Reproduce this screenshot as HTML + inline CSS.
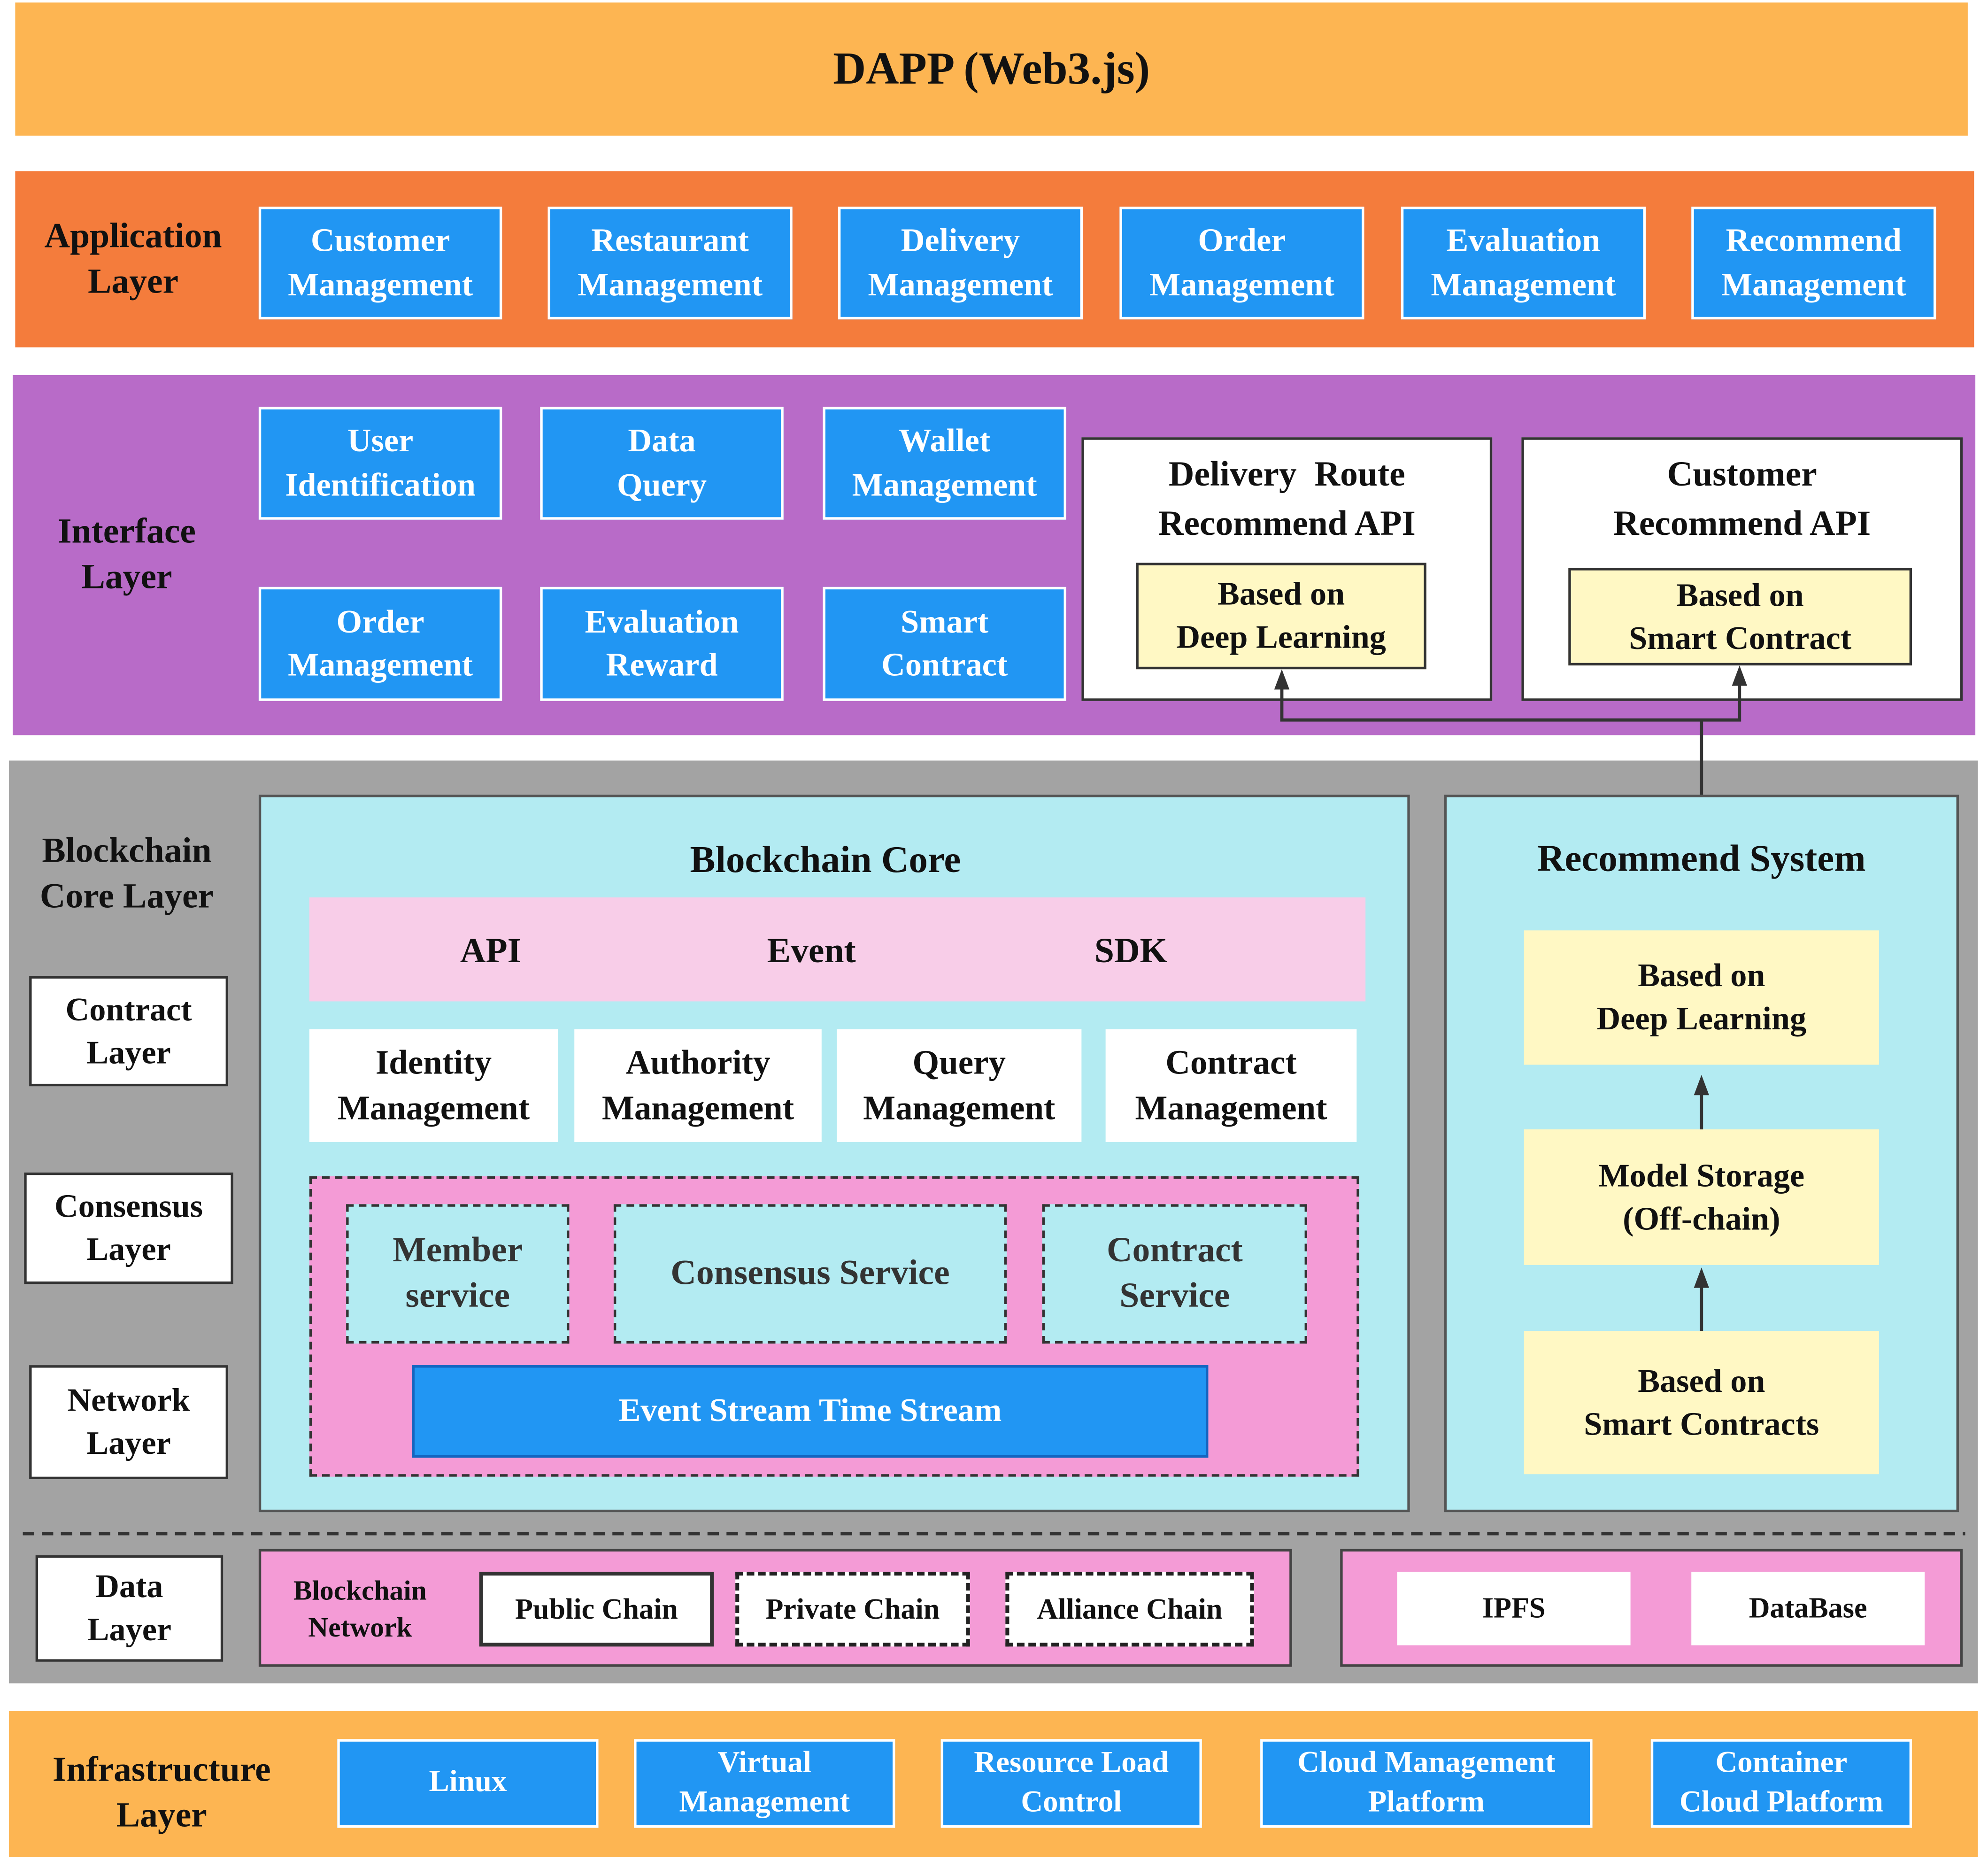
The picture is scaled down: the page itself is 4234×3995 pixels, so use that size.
<!DOCTYPE html>
<html><head><meta charset="utf-8"><style>
*{margin:0;padding:0;box-sizing:border-box}
html,body{width:4234px;height:3995px;overflow:hidden;background:#fff}
#w{position:absolute;left:0;top:0;width:1568px;height:1480px;transform:scale(2.7003,2.6993);transform-origin:0 0;font-family:"Liberation Serif",serif;font-weight:bold}
.a{position:absolute;display:flex;align-items:center;justify-content:center;text-align:center;line-height:1.3}
.b{background:#2196F3;color:#fff;border:2px solid #fff;font-size:26px;line-height:1.32}
.w{background:#fff;color:#111;border:2px solid #333;font-size:26px}
.y{background:#FFF8C4;color:#111;font-size:26px}
.l{color:#111;font-size:28px}
.d{border:2px dashed #333}
</style></head><body><div id="w">
<div class="a" style="left:12px;top:2px;width:1540px;height:105px;background:#FDB552;font-size:36px;color:#111">DAPP (Web3.js)</div>

<div class="a" style="left:12px;top:135px;width:1545px;height:139px;background:#F47C3C"></div>
<div class="a l" style="left:20px;top:165px;width:170px;height:80px">Application<br>Layer</div>
<div class="a b" style="left:204px;top:163px;width:192px;height:89px">Customer<br>Management</div>
<div class="a b" style="left:432px;top:163px;width:193px;height:89px">Restaurant<br>Management</div>
<div class="a b" style="left:661px;top:163px;width:193px;height:89px">Delivery<br>Management</div>
<div class="a b" style="left:883px;top:163px;width:193px;height:89px">Order<br>Management</div>
<div class="a b" style="left:1105px;top:163px;width:193px;height:89px">Evaluation<br>Management</div>
<div class="a b" style="left:1334px;top:163px;width:193px;height:89px">Recommend<br>Management</div>

<div class="a" style="left:10px;top:296px;width:1548px;height:284px;background:#B86BC8"></div>
<div class="a l" style="left:20px;top:398px;width:160px;height:80px">Interface<br>Layer</div>
<div class="a b" style="left:204px;top:321px;width:192px;height:89px">User<br>Identification</div>
<div class="a b" style="left:426px;top:321px;width:192px;height:89px">Data<br>Query</div>
<div class="a b" style="left:649px;top:321px;width:192px;height:89px">Wallet<br>Management</div>
<div class="a b" style="left:204px;top:463px;width:192px;height:90px">Order<br>Management</div>
<div class="a b" style="left:426px;top:463px;width:192px;height:90px">Evaluation<br>Reward</div>
<div class="a b" style="left:649px;top:463px;width:192px;height:90px">Smart<br>Contract</div>
<div class="a w" style="left:853px;top:345px;width:324px;height:208px;align-items:flex-start;padding-top:8px;font-size:28px;line-height:1.4">Delivery&nbsp; Route<br>Recommend API</div>
<div class="a y" style="left:896px;top:444px;width:229px;height:84px;border:2px solid #333">Based on<br>Deep Learning</div>
<div class="a w" style="left:1200px;top:345px;width:348px;height:208px;align-items:flex-start;padding-top:8px;font-size:28px;line-height:1.4">Customer<br>Recommend API</div>
<div class="a y" style="left:1237px;top:448px;width:271px;height:77px;border:2px solid #333">Based on<br>Smart Contract</div>

<div class="a" style="left:7px;top:600px;width:1553px;height:728px;background:#A3A3A3"></div>
<svg style="position:absolute;left:0;top:0" width="1568" height="1480">
<path d="M1342 627V568M1011 540V568H1372V537" fill="none" stroke="#333" stroke-width="2.5"/>
<polygon points="1011,528 1005,544 1017,544" fill="#333"/>
<polygon points="1372,525 1366,541 1378,541" fill="#333"/>
<line x1="18" y1="1210" x2="1550" y2="1210" stroke="#333" stroke-width="2.5" stroke-dasharray="9,6"/>
</svg>
<div class="a l" style="left:15px;top:650px;width:170px;height:80px">Blockchain<br>Core Layer</div>
<div class="a w" style="left:23px;top:770px;width:157px;height:87px">Contract<br>Layer</div>
<div class="a w" style="left:19px;top:925px;width:165px;height:88px">Consensus<br>Layer</div>
<div class="a w" style="left:23px;top:1077px;width:157px;height:90px">Network<br>Layer</div>
<div class="a w" style="left:28px;top:1227px;width:148px;height:84px">Data<br>Layer</div>

<div class="a" style="left:204px;top:627px;width:908px;height:566px;background:#B3EBF2;border:2px solid #555"></div>
<div class="a l" style="left:204px;top:658px;width:894px;height:40px;font-size:30px">Blockchain Core</div>
<div class="a" style="left:244px;top:708px;width:833px;height:82px;background:#F8CDE8"></div>
<div class="a l" style="left:337px;top:731px;width:100px;height:40px">API</div>
<div class="a l" style="left:580px;top:731px;width:120px;height:40px">Event</div>
<div class="a l" style="left:842px;top:731px;width:100px;height:40px">SDK</div>
<div class="a w" style="left:244px;top:812px;width:196px;height:89px;border:none;font-size:27px">Identity<br>Management</div>
<div class="a w" style="left:453px;top:812px;width:195px;height:89px;border:none;font-size:27px">Authority<br>Management</div>
<div class="a w" style="left:660px;top:812px;width:193px;height:89px;border:none;font-size:27px">Query<br>Management</div>
<div class="a w" style="left:872px;top:812px;width:198px;height:89px;border:none;font-size:27px">Contract<br>Management</div>
<div class="a d" style="left:244px;top:928px;width:828px;height:237px;background:#F49BD6"></div>
<div class="a d l" style="left:273px;top:950px;width:176px;height:110px;background:#B3EBF2;color:#333">Member<br>service</div>
<div class="a d l" style="left:484px;top:950px;width:310px;height:110px;background:#B3EBF2;color:#333">Consensus Service</div>
<div class="a d l" style="left:822px;top:950px;width:209px;height:110px;background:#B3EBF2;color:#333">Contract<br>Service</div>
<div class="a b" style="left:325px;top:1077px;width:628px;height:73px;border-color:#1565C0">Event Stream Time Stream</div>

<div class="a" style="left:1139px;top:627px;width:406px;height:566px;background:#B3EBF2;border:2px solid #555"></div>
<div class="a l" style="left:1139px;top:657px;width:406px;height:40px;font-size:30px">Recommend System</div>
<div class="a y" style="left:1202px;top:734px;width:280px;height:106px">Based on<br>Deep Learning</div>
<div class="a y" style="left:1202px;top:891px;width:280px;height:107px">Model Storage<br>(Off-chain)</div>
<div class="a y" style="left:1202px;top:1050px;width:280px;height:113px">Based on<br>Smart Contracts</div>
<svg style="position:absolute;left:0;top:0" width="1568" height="1480">
<path d="M1342 891V860M1342 1050V1015" stroke="#333" stroke-width="2.5"/>
<polygon points="1342,848 1336,864 1348,864" fill="#333"/>
<polygon points="1342,1000 1336,1016 1348,1016" fill="#333"/>
</svg>

<div class="a" style="left:204px;top:1222px;width:815px;height:93px;background:#F49BD6;border:2px solid #444"></div>
<div class="a" style="left:214px;top:1240px;width:140px;height:60px;font-size:22px;color:#111;line-height:1.3">Blockchain<br>Network</div>
<div class="a w" style="left:378px;top:1240px;width:185px;height:59px;border-width:3px;font-size:23px">Public Chain</div>
<div class="a w" style="left:580px;top:1240px;width:185px;height:59px;border:3px dashed #222;font-size:23px">Private Chain</div>
<div class="a w" style="left:793px;top:1240px;width:196px;height:59px;border:3px dashed #222;font-size:23px">Alliance Chain</div>
<div class="a" style="left:1057px;top:1222px;width:491px;height:93px;background:#F49BD6;border:2px solid #444"></div>
<div class="a w" style="left:1102px;top:1240px;width:184px;height:58px;border:none;font-size:23px">IPFS</div>
<div class="a w" style="left:1334px;top:1240px;width:184px;height:58px;border:none;font-size:23px">DataBase</div>

<div class="a" style="left:7px;top:1350px;width:1553px;height:115px;background:#FDB552"></div>
<div class="a l" style="left:20px;top:1375px;width:215px;height:80px">Infrastructure<br>Layer</div>
<div class="a b" style="left:266px;top:1372px;width:206px;height:70px;font-size:24px;line-height:1.3">Linux</div>
<div class="a b" style="left:500px;top:1372px;width:206px;height:70px;font-size:24px;line-height:1.3">Virtual<br>Management</div>
<div class="a b" style="left:742px;top:1372px;width:206px;height:70px;font-size:24px;line-height:1.3">Resource Load<br>Control</div>
<div class="a b" style="left:994px;top:1372px;width:262px;height:70px;font-size:24px;line-height:1.3">Cloud Management<br>Platform</div>
<div class="a b" style="left:1302px;top:1372px;width:206px;height:70px;font-size:24px;line-height:1.3">Container<br>Cloud Platform</div>
</div></body></html>
